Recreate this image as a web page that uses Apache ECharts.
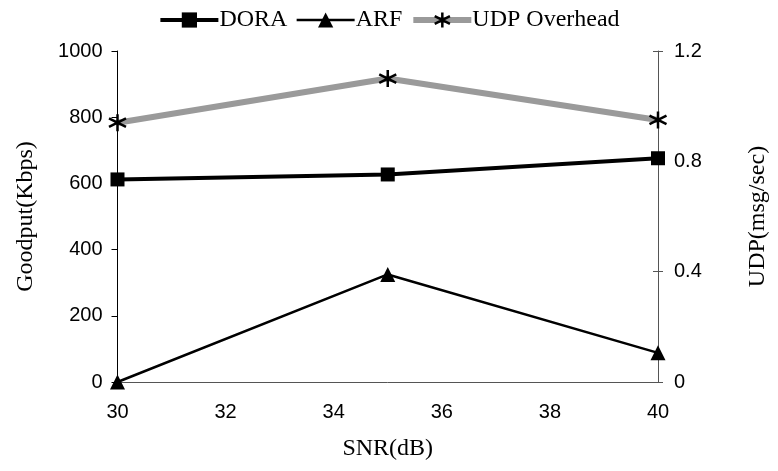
<!DOCTYPE html>
<html>
<head>
<meta charset="utf-8">
<script src="https://cdn.jsdelivr.net/npm/echarts@6/dist/echarts.min.js"></script>
<style>
  html, body { margin: 0; padding: 0; background: #fff; }
  #chart { width: 778px; height: 471px; }
</style>
</head>
<body>
<div id="chart"></div>
<script>
// SNR values (dB) on the x axis
const snr = [30, 35, 40];
// Goodput (Kbps), left axis
const doraGoodput = [612, 627, 676];
const arfGoodput = [0, 325, 88];
// UDP overhead (msg/sec), right axis
const udpOverhead = [0.94, 1.1, 0.95];

const pairs = (xs, ys) => xs.map((x, i) => [x, ys[i]]);

// six-armed star marker: vertical bar plus a cross
const starPath = 'path://M0,-10L0,10M-8.7,-5L8.7,5M-8.7,5L8.7,-5';

const serif = '"Liberation Serif", "Times New Roman", serif';
const sans = '"Liberation Sans", Arial, sans-serif';

const chart = echarts.init(document.getElementById('chart'));
chart.setOption({
  animation: false,
  backgroundColor: '#fff',
  grid: { left: 117.5, right: 111.3, top: 51, bottom: 89 },
  legend: {
    top: 3,
    left: 'center',
    itemWidth: 58,
    itemHeight: 19,
    itemGap: 8,
    textStyle: { fontFamily: serif, fontSize: 24, color: '#000', padding: [0, 0, 0, -4] },
    data: [
      { name: 'DORA', lineStyle: { width: 4, color: '#000' }, itemStyle: { color: '#000' } },
      { name: 'ARF', lineStyle: { width: 2.5, color: '#000' }, itemStyle: { color: '#000' } },
      { name: 'UDP Overhead', lineStyle: { width: 6, color: '#9a9a9a' },
        itemStyle: { color: '#000', borderColor: '#000', borderWidth: 2.5 } }
    ]
  },
  xAxis: {
    type: 'value',
    min: 30, max: 40, interval: 2,
    name: 'SNR(dB)',
    nameLocation: 'middle',
    nameGap: 55,
    nameTextStyle: { fontFamily: serif, fontSize: 24, color: '#000' },
    axisLine: { lineStyle: { color: '#555', width: 1 } },
    axisTick: { show: false },
    splitLine: { show: false },
    axisLabel: { fontFamily: sans, fontSize: 20, color: '#000', margin: 20 }
  },
  yAxis: [
    {
      type: 'value',
      position: 'left',
      min: 0, max: 1000, interval: 200,
      name: 'Goodput(Kbps)',
      nameLocation: 'middle',
      nameGap: 80,
      nameTextStyle: { fontFamily: serif, fontSize: 24, color: '#000' },
      axisLine: { show: true, lineStyle: { color: '#000', width: 1 } },
      axisTick: { show: true, length: 6, lineStyle: { color: '#000' } },
      splitLine: { show: false },
      axisLabel: { fontFamily: sans, fontSize: 20, color: '#000', margin: 15,
        formatter: v => String(v) }
    },
    {
      type: 'value',
      position: 'right',
      min: 0, max: 1.2, interval: 0.4,
      name: 'UDP(msg/sec)',
      nameLocation: 'middle',
      nameGap: 88,
      nameTextStyle: { fontFamily: serif, fontSize: 24, color: '#000' },
      axisLine: { show: true, lineStyle: { color: '#555', width: 1 } },
      axisTick: { show: true, length: 5, lineStyle: { color: '#555' } },
      splitLine: { show: false },
      axisLabel: { fontFamily: sans, fontSize: 20, color: '#000', margin: 16 }
    },
    {
      // inner half of the crossing ticks on the right axis
      type: 'value',
      position: 'right',
      min: 0, max: 1.2, interval: 0.4,
      axisLine: { show: false },
      axisTick: { show: true, inside: true, length: 5, lineStyle: { color: '#555' } },
      axisLabel: { show: false },
      splitLine: { show: false }
    }
  ],
  series: [
    {
      name: 'UDP Overhead',
      type: 'line',
      yAxisIndex: 1,
      data: pairs(snr, udpOverhead),
      symbol: starPath,
      symbolSize: 17,
      lineStyle: { color: '#9a9a9a', width: 6 },
      itemStyle: { color: '#000', borderColor: '#000', borderWidth: 2.5 },
      z: 2
    },
    {
      name: 'DORA',
      type: 'line',
      yAxisIndex: 0,
      data: pairs(snr, doraGoodput),
      symbol: 'rect',
      symbolSize: 14,
      lineStyle: { color: '#000', width: 4 },
      itemStyle: { color: '#000' },
      z: 3
    },
    {
      name: 'ARF',
      type: 'line',
      yAxisIndex: 0,
      data: pairs(snr, arfGoodput),
      symbol: 'triangle',
      symbolSize: 15,
      lineStyle: { color: '#000', width: 2.5 },
      itemStyle: { color: '#000' },
      z: 3
    }
  ]
});
</script>
</body>
</html>
